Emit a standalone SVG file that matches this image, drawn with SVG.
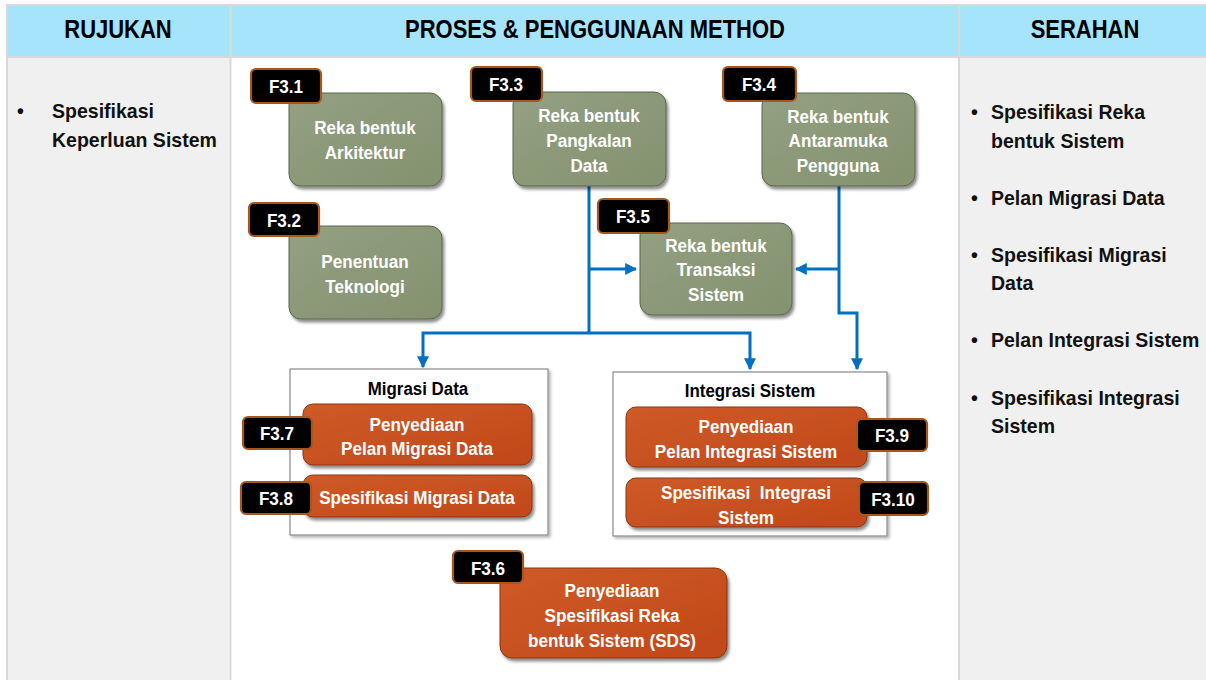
<svg xmlns="http://www.w3.org/2000/svg" width="1206" height="680" viewBox="0 0 1206 680">
  <defs>
    <linearGradient id="gGreen" x1="0" y1="0" x2="1" y2="1">
      <stop offset="0" stop-color="#93a082"/>
      <stop offset="1" stop-color="#84926f"/>
    </linearGradient>
    <linearGradient id="gOrange" x1="0" y1="0" x2="1" y2="1">
      <stop offset="0" stop-color="#cf5b27"/>
      <stop offset="1" stop-color="#c1471a"/>
    </linearGradient>
    <filter id="shadow" x="-10%" y="-10%" width="125%" height="130%">
      <feDropShadow dx="2" dy="3" stdDeviation="1.6" flood-color="#000" flood-opacity="0.45"/>
    </filter>
    <filter id="softShadow" x="-5%" y="-5%" width="115%" height="115%">
      <feDropShadow dx="2" dy="2" stdDeviation="1.5" flood-color="#000" flood-opacity="0.3"/>
    </filter>
    <marker id="arrow" viewBox="0 0 10 10" refX="9" refY="5" markerWidth="4" markerHeight="4" orient="auto" markerUnits="strokeWidth">
      <path d="M0,0 L10,5 L0,10 z" fill="#0070c0"/>
    </marker>
    <style>
      text { font-family: "Liberation Sans Narrow", "Liberation Sans", Arial, sans-serif; font-weight: bold; }
      .hdr { font-size: 25px; fill: #000; text-anchor: middle; }
      .list { font-size: 21px; fill: #111; }
      .node { font-size: 19px; fill: #fff; text-anchor: middle; }
      .tag { font-size: 19px; fill: #fff; text-anchor: middle; }
      .green { fill: url(#gGreen); stroke: #5b6650; stroke-width: 1; filter: url(#shadow); }
      .orange { fill: url(#gOrange); stroke: #8c3510; stroke-width: 1; filter: url(#shadow); }
      .badge { fill: #000; stroke: #a6581c; stroke-width: 2.2; }
      .group { fill: #fff; stroke: #8a8a8a; stroke-width: 1.2; filter: url(#softShadow); }
      .gtitle { font-size: 19px; fill: #000; text-anchor: middle; }
      .wire { fill: none; stroke: #0070c0; stroke-width: 3; }
    </style>
  </defs>

  <!-- table frame -->
  <rect x="0" y="0" width="1206" height="680" fill="#fff"/>
  <rect x="7" y="5" width="1199" height="52" fill="#a6e4fc"/>
  <rect x="7" y="57" width="223" height="623" fill="#f0f0f0"/>
  <rect x="959" y="57" width="247" height="623" fill="#f0f0f0"/>
  <g stroke="#d9d9d9" stroke-width="2" fill="none">
    <line x1="6" y1="5" x2="1206" y2="5"/>
    <line x1="6" y1="57" x2="1206" y2="57"/>
    <line x1="7" y1="4" x2="7" y2="680"/>
    <line x1="230.5" y1="4" x2="230.5" y2="680"/>
    <line x1="959" y1="4" x2="959" y2="680"/>
  </g>

  <!-- column headers (condensed horizontally) -->
  <text class="hdr" transform="translate(118 38) scale(0.88 1)">RUJUKAN</text>
  <text class="hdr" transform="translate(595 38) scale(0.88 1)">PROSES &amp; PENGGUNAAN METHOD</text>
  <text class="hdr" transform="translate(1085 38) scale(0.88 1)">SERAHAN</text>

  <!-- inputs -->
  <g id="rujukan" class="list">
    <text transform="translate(17 118) scale(0.93 1)">•</text>
    <text transform="translate(52 118) scale(0.93 1)">Spesifikasi</text>
    <text transform="translate(52 147) scale(0.93 1)">Keperluan Sistem</text>
  </g>

  <!-- outputs -->
  <g id="serahan" class="list">
    <text transform="translate(971 119) scale(0.93 1)">•</text>
    <text transform="translate(991 119) scale(0.93 1)">Spesifikasi Reka</text>
    <text transform="translate(991 148) scale(0.93 1)">bentuk Sistem</text>
    <text transform="translate(971 205) scale(0.93 1)">•</text>
    <text transform="translate(991 205) scale(0.93 1)">Pelan Migrasi Data</text>
    <text transform="translate(971 262) scale(0.93 1)">•</text>
    <text transform="translate(991 262) scale(0.93 1)">Spesifikasi Migrasi</text>
    <text transform="translate(991 290) scale(0.93 1)">Data</text>
    <text transform="translate(971 347) scale(0.93 1)">•</text>
    <text transform="translate(991 347) scale(0.93 1)">Pelan Integrasi Sistem</text>
    <text transform="translate(971 405) scale(0.93 1)">•</text>
    <text transform="translate(991 405) scale(0.93 1)">Spesifikasi Integrasi</text>
    <text transform="translate(991 433) scale(0.93 1)">Sistem</text>
  </g>

  <!-- connectors -->
  <g id="connectors" class="wire">
    <path d="M589,186 V333"/>
    <path d="M589,269 H636" marker-end="url(#arrow)"/>
    <path d="M589,333 H423 V367" marker-end="url(#arrow)"/>
    <path d="M589,333 H750 V369" marker-end="url(#arrow)"/>
    <path d="M839,186 V313 H857 V369" marker-end="url(#arrow)"/>
    <path d="M839,269 H796" marker-end="url(#arrow)"/>
  </g>

  <!-- group frames -->
  <g id="migrasi-data">
    <rect class="group" x="290" y="369" width="258" height="166"/>
    <text class="gtitle" transform="translate(418 395) scale(0.89 1)">Migrasi Data</text>
  </g>
  <g id="integrasi-sistem">
    <rect class="group" x="613" y="372" width="274" height="164"/>
    <text class="gtitle" transform="translate(750 397) scale(0.89 1)">Integrasi Sistem</text>
  </g>

  <!-- design tasks -->
  <g id="f3-1">
    <rect class="green" x="289" y="93" width="153" height="93" rx="12"/>
    <text class="node" transform="translate(365 134) scale(0.9 1)">Reka bentuk</text>
    <text class="node" transform="translate(365 159) scale(0.9 1)">Arkitektur</text>
    <rect class="badge" x="251" y="69" width="70" height="34" rx="5"/>
    <text class="tag" transform="translate(286 93) scale(0.9 1)">F3.1</text>
  </g>
  <g id="f3-2">
    <rect class="green" x="289" y="226" width="153" height="93" rx="12"/>
    <text class="node" transform="translate(365 268) scale(0.9 1)">Penentuan</text>
    <text class="node" transform="translate(365 293) scale(0.9 1)">Teknologi</text>
    <rect class="badge" x="249" y="203" width="70" height="33" rx="5"/>
    <text class="tag" transform="translate(284 227) scale(0.9 1)">F3.2</text>
  </g>
  <g id="f3-3">
    <rect class="green" x="513" y="92" width="153" height="94" rx="12"/>
    <text class="node" transform="translate(589 122) scale(0.9 1)">Reka bentuk</text>
    <text class="node" transform="translate(589 147) scale(0.9 1)">Pangkalan</text>
    <text class="node" transform="translate(589 172) scale(0.9 1)">Data</text>
    <rect class="badge" x="471" y="67" width="71" height="34" rx="5"/>
    <text class="tag" transform="translate(506 91) scale(0.9 1)">F3.3</text>
  </g>
  <g id="f3-4">
    <rect class="green" x="762" y="93" width="153" height="93" rx="12"/>
    <text class="node" transform="translate(838 123) scale(0.9 1)">Reka bentuk</text>
    <text class="node" transform="translate(838 147) scale(0.9 1)">Antaramuka</text>
    <text class="node" transform="translate(838 172) scale(0.9 1)">Pengguna</text>
    <rect class="badge" x="723" y="67" width="73" height="34" rx="5"/>
    <text class="tag" transform="translate(759 91) scale(0.9 1)">F3.4</text>
  </g>
  <g id="f3-5">
    <rect class="green" x="640" y="223" width="152" height="92" rx="12"/>
    <text class="node" transform="translate(716 252) scale(0.9 1)">Reka bentuk</text>
    <text class="node" transform="translate(716 276) scale(0.9 1)">Transaksi</text>
    <text class="node" transform="translate(716 301) scale(0.9 1)">Sistem</text>
    <rect class="badge" x="598" y="199" width="71" height="34" rx="5"/>
    <text class="tag" transform="translate(633 223) scale(0.9 1)">F3.5</text>
  </g>

  <!-- data migration tasks -->
  <g id="f3-7">
    <rect class="orange" x="303" y="404" width="229" height="61" rx="10"/>
    <text class="node" transform="translate(417 431) scale(0.9 1)">Penyediaan</text>
    <text class="node" transform="translate(417 455) scale(0.9 1)">Pelan Migrasi Data</text>
    <rect class="badge" x="243" y="417" width="69" height="32" rx="5"/>
    <text class="tag" transform="translate(277 440) scale(0.9 1)">F3.7</text>
  </g>
  <g id="f3-8">
    <rect class="orange" x="303" y="475" width="229" height="42" rx="10"/>
    <text class="node" transform="translate(417 504) scale(0.9 1)">Spesifikasi Migrasi Data</text>
    <rect class="badge" x="241" y="482" width="70" height="32" rx="5"/>
    <text class="tag" transform="translate(276 505) scale(0.9 1)">F3.8</text>
  </g>

  <!-- system integration tasks -->
  <g id="f3-9">
    <rect class="orange" x="626" y="407" width="241" height="60" rx="10"/>
    <text class="node" transform="translate(746 433) scale(0.9 1)">Penyediaan</text>
    <text class="node" transform="translate(746 458) scale(0.9 1)">Pelan Integrasi Sistem</text>
    <rect class="badge" x="857" y="419" width="70" height="32" rx="5"/>
    <text class="tag" transform="translate(892 442) scale(0.9 1)">F3.9</text>
  </g>
  <g id="f3-10">
    <rect class="orange" x="626" y="478" width="241" height="49" rx="10"/>
    <text class="node" transform="translate(746 499) scale(0.9 1)" xml:space="preserve">Spesifikasi  Integrasi</text>
    <text class="node" transform="translate(746 524) scale(0.9 1)">Sistem</text>
    <rect class="badge" x="859" y="482" width="69" height="33" rx="5"/>
    <text class="tag" transform="translate(893 506) scale(0.9 1)">F3.10</text>
  </g>

  <!-- design specification -->
  <g id="f3-6">
    <rect class="orange" x="500" y="568" width="227" height="90" rx="12"/>
    <text class="node" transform="translate(612 597) scale(0.9 1)">Penyediaan</text>
    <text class="node" transform="translate(612 622) scale(0.9 1)">Spesifikasi Reka</text>
    <text class="node" transform="translate(612 647) scale(0.9 1)">bentuk Sistem (SDS)</text>
    <rect class="badge" x="453" y="551" width="70" height="32" rx="5"/>
    <text class="tag" transform="translate(488 575) scale(0.9 1)">F3.6</text>
  </g>
</svg>
